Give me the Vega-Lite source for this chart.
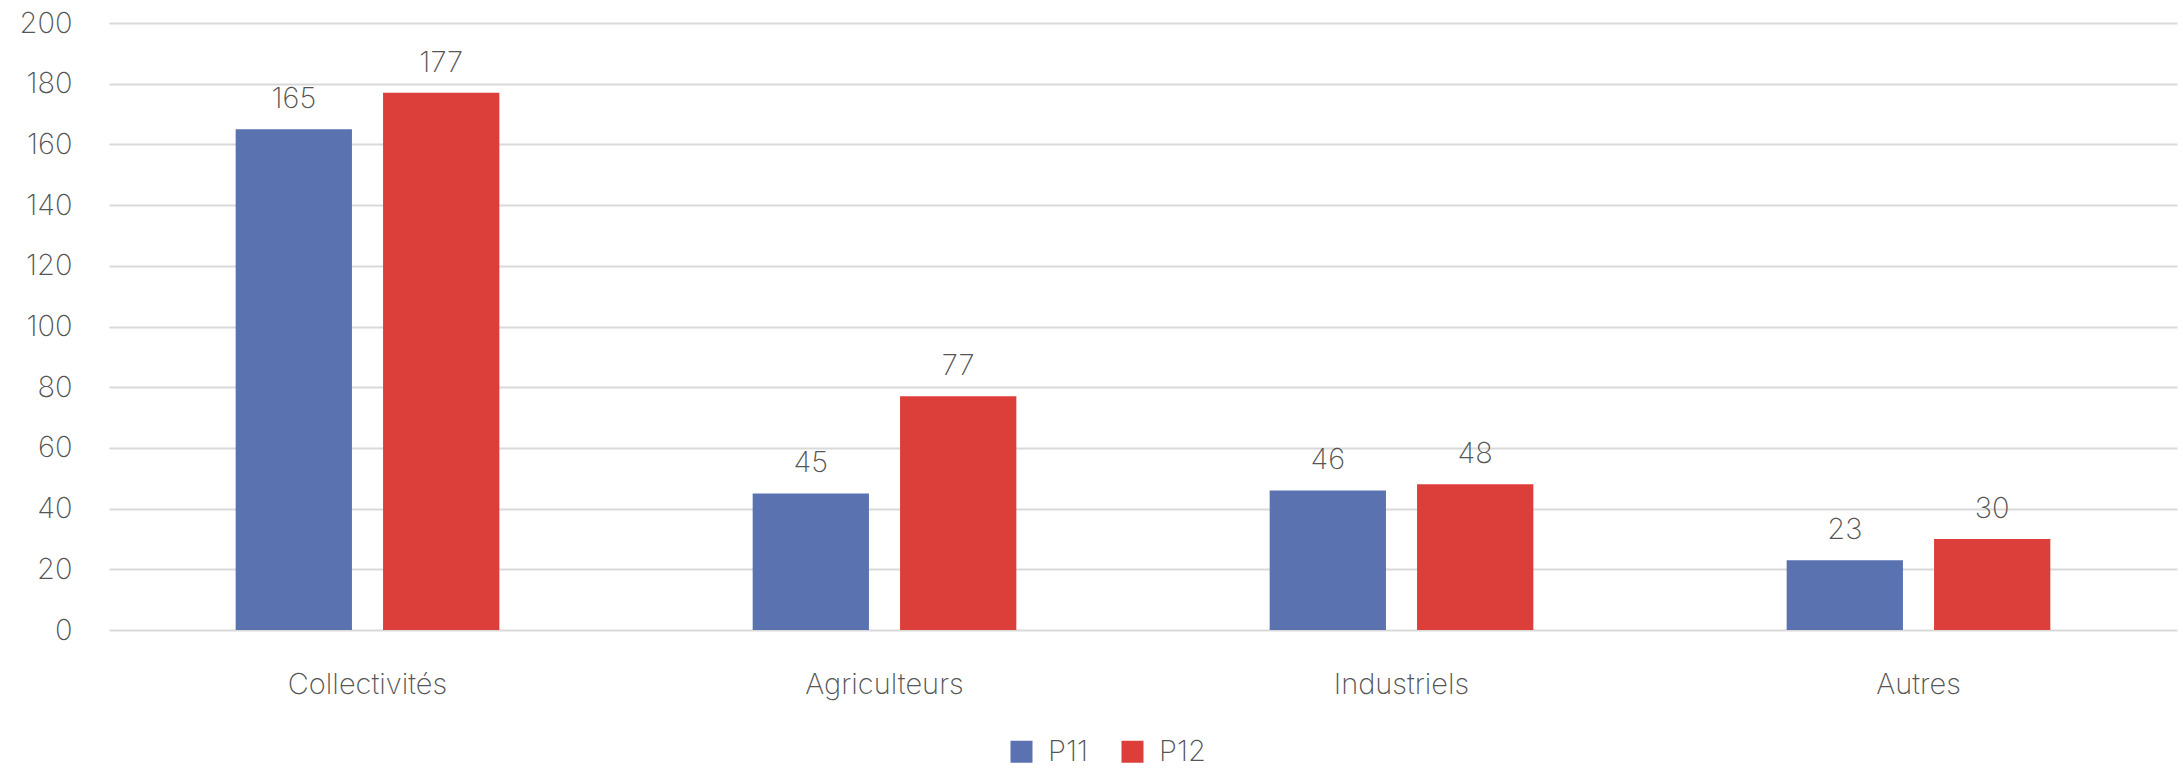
{
  "$schema": "https://vega.github.io/schema/vega-lite/v6.json",
  "autosize": "none",
  "width": 2068,
  "height": 607,
  "padding": {"left": 109, "top": 23, "right": 6, "bottom": 138},
  "background": "white",
  "config": {
    "view": {"stroke": null},
    "font": "Inter",
    "axis": {"labelFont": "Inter", "labelFontWeight": 200, "labelColor": "#555555", "labelFontSize": 29, "domain": false, "ticks": false, "title": null},
    "legend": {"labelFont": "Inter", "labelFontWeight": 200, "labelColor": "#555555", "labelFontSize": 29}
  },
  "data": {
    "values": [
      {"categorie": "Collectivités", "periode": "P11", "valeur": 165},
      {"categorie": "Collectivités", "periode": "P12", "valeur": 177},
      {"categorie": "Agriculteurs", "periode": "P11", "valeur": 45},
      {"categorie": "Agriculteurs", "periode": "P12", "valeur": 77},
      {"categorie": "Industriels", "periode": "P11", "valeur": 46},
      {"categorie": "Industriels", "periode": "P12", "valeur": 48},
      {"categorie": "Autres", "periode": "P11", "valeur": 23},
      {"categorie": "Autres", "periode": "P12", "valeur": 30}
    ]
  },
  "encoding": {
    "x": {"field": "categorie", "type": "nominal", "sort": null,
          "scale": {"paddingInner": 0.49, "paddingOuter": 0.245},
          "axis": {"labelAngle": 0, "labelPadding": 40, "grid": false}},
    "xOffset": {"field": "periode", "type": "nominal", "scale": {"paddingInner": 0.211, "paddingOuter": 0}},
    "y": {"field": "valeur", "type": "quantitative",
          "scale": {"domain": [0, 200], "nice": false},
          "axis": {"values": [0,20,40,60,80,100,120,140,160,180,200], "labelPadding": 37, "gridColor": "#d9d9d9", "gridWidth": 2}}
  },
  "layer": [
    {
      "mark": {"type": "bar"},
      "encoding": {
        "color": {"field": "periode", "type": "nominal", "title": null,
                  "scale": {"domain": ["P11", "P12"], "range": ["#5A72B0", "#DC3F3A"]},
                  "legend": {"orient": "none", "legendX": 898, "legendY": 714, "direction": "horizontal", "symbolType": "square", "symbolSize": 484, "symbolOpacity": 1, "symbolStrokeWidth": 0, "columnPadding": 30, "labelOffset": 12}}
      }
    },
    {
      "mark": {"type": "text", "baseline": "bottom", "dy": -15, "fontSize": 29, "fontWeight": 200, "font": "Inter", "color": "#555555"},
      "encoding": {"text": {"field": "valeur", "type": "quantitative"}}
    }
  ]
}
